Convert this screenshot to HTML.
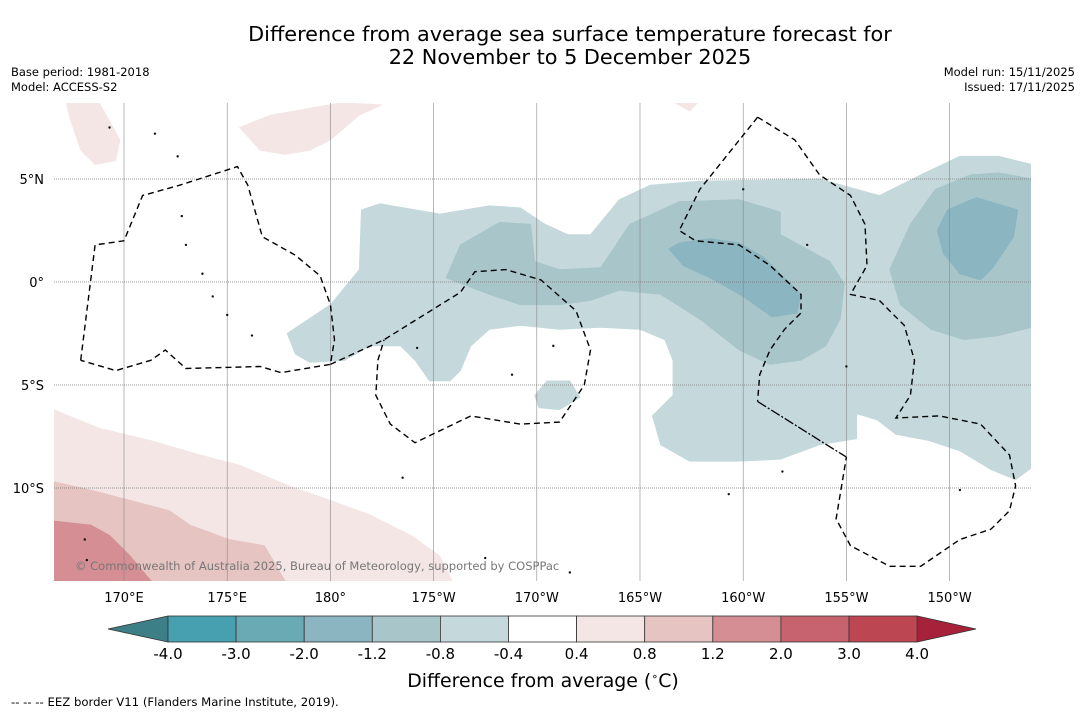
<!DOCTYPE html>
<html><head><meta charset="utf-8">
<style>
body{margin:0;background:#fff;width:1085px;height:713px;overflow:hidden;font-family:"DejaVu Sans","Liberation Sans",sans-serif;}
svg{display:block}
</style></head>
<body>
<svg id="chart" width="1085" height="713" viewBox="0 0 1085 713">
<text x="570" y="41" font-size="20.8" text-anchor="middle" fill="#000">Difference from average sea surface temperature forecast for</text>
<text x="570" y="64" font-size="20.8" text-anchor="middle" fill="#000">22 November to 5 December 2025</text>
<text x="11" y="76" font-size="11.5">Base period: 1981-2018</text>
<text x="11" y="91" font-size="11.5">Model: ACCESS-S2</text>
<text x="1075" y="76" font-size="11.5" text-anchor="end">Model run: 15/11/2025</text>
<text x="1075" y="91" font-size="11.5" text-anchor="end">Issued: 17/11/2025</text>
<g id="map"></g>
<g id="cbar"></g>
<text x="543" y="687" font-size="18.9" text-anchor="middle">Difference from average (<tspan font-size="11" dy="-7">∘</tspan><tspan dy="7">C)</tspan></text>
<text x="11" y="706" font-size="11.7">--  --  -- EEZ border V11 (Flanders Marine Institute, 2019).</text>
</svg>
<script>
const NS="http://www.w3.org/2000/svg";
// axis/tick data
const lonTicks=[170,175,180,185,190,195,200,205,210];
const lonTickLabels=["170°E","175°E","180°","175°W","170°W","165°W","160°W","155°W","150°W"];
const latTicks=[5,0,-5,-10];
const latTickLabels=["5°N","0°","5°S","10°S"];
// colorbar data
const cbLevels=["-4.0","-3.0","-2.0","-1.2","-0.8","-0.4","0.4","0.8","1.2","2.0","3.0","4.0"];
const cbColors=["#47a0b0","#6aaab5","#8ab5c1","#a8c5ca","#c5d9dd","#ffffff","#f3e6e5","#e5c4c1","#d48e94","#c7636e","#bd4653"];
const cbLow="#3d7f86", cbHigh="#a8213b";
// contour polygons [lon, lat] (lon in degrees east)
const negL1=[[177.9,-2.5],[180,-1.1],[181.4,0.6],[181.5,3.5],[182.4,3.8],[185.3,3.3],[187.7,3.7],[189.2,3.6],[190.4,2.8],[191.5,2.3],[192.6,2.3],[194,4],[195.5,4.7],[197.9,4.9],[203.7,5],[206.6,4.2],[208.6,5.2],[210.5,6.1],[212.4,6.1],[214,5.7],[214,-9],[213.2,-9.6],[212,-9.1],[210.5,-8.2],[209,-7.7],[207.4,-7.4],[206.5,-6.7],[205.5,-6.4],[205.5,-7.6],[203.7,-7.9],[201.8,-8.6],[199.8,-8.7],[197.4,-8.7],[196,-7.9],[195.6,-6.5],[196.6,-5.5],[196.6,-3.8],[196.2,-2.8],[195,-2.3],[193.1,-2.2],[191.1,-2.3],[189.2,-2.1],[187.7,-2.3],[186.8,-3.1],[186.3,-4.3],[185.8,-4.8],[184.8,-4.8],[184.1,-3.8],[183.4,-3.1],[181.9,-3.1],[180.7,-3.8],[179,-3.9],[178.3,-3.5]];
const negL1b=[[189.9,-5.5],[190.5,-4.8],[191.6,-4.8],[192.1,-5.6],[191.1,-6.2],[190.1,-6.1]];
const negL2a=[[185.6,0.2],[186.3,1.8],[188.2,2.9],[189.7,2.8],[189.9,1],[191.1,0.6],[193.1,0.7],[194.5,2.8],[196.9,3.9],[199.8,4],[201.8,3.4],[201.8,2.3],[204.2,1],[204.9,-0.1],[204.7,-1.8],[204,-3.1],[202.8,-3.8],[201.3,-4],[199.8,-3.3],[197.9,-1.8],[196,-0.6],[194,-0.4],[192.6,-0.9],[191.1,-1.1],[189.2,-1.1],[187.7,-0.6]];
const negL2b=[[207.1,0.6],[208.1,2.8],[209.3,4.5],[211,5.2],[212.4,5.3],[214,5],[214,-2.2],[212.4,-2.6],[210.7,-2.8],[209.1,-2.3],[207.6,-1.1]];
const negL3a=[[196.4,1.6],[196.9,1.9],[198.4,2.1],[199.8,1.9],[201,1.2],[202.1,0.1],[202.8,-0.6],[202.6,-1.5],[201.4,-1.7],[200,-0.7],[198.4,0.2],[197.1,0.8]];
const negL3b=[[209.4,2.5],[209.9,3.5],[211.3,4.1],[213.3,3.5],[213.1,2.2],[212.1,0.7],[211.5,0.1],[210.5,0.4],[209.7,1.4]];
const posL1a=[[166.6,-6.2],[168.8,-7.1],[171.3,-7.7],[173.7,-8.4],[175.6,-8.9],[178,-9.9],[180,-10.6],[181.9,-11.3],[183.9,-12.3],[185.3,-13.3],[185.9,-14.5],[166.6,-14.5]];
const posL1b=[[167.2,8.7],[168.8,8.7],[169.8,6.9],[169.6,5.9],[168.6,5.7],[167.9,6.4],[167.4,7.9]];
const posL1c=[[175.6,7.5],[177.1,8.1],[180.5,8.7],[182.5,8.6],[181.4,8.1],[180,6.9],[179,6.4],[177.8,6.2],[176.6,6.4]];
const posL1d=[[196.7,8.7],[197.8,8.7],[197.4,8.3]];
const posL2=[[166.6,-9.7],[168.4,-10.1],[170.3,-10.6],[172.2,-11.1],[173.2,-11.8],[175.1,-12.5],[176.8,-12.8],[177.8,-14.5],[166.6,-14.5]];
const posL3=[[166.6,-11.6],[168.4,-11.8],[169.3,-12.3],[170.3,-13.3],[171.3,-14.5],[166.6,-14.5]];
// EEZ borders
const eezA=[[167.9,-3.8],[168.6,1.8],[170,2],[170.9,4.2],[172.7,4.7],[175.5,5.6],[176,4.7],[176.7,2.2],[178.3,1.3],[179.5,0.3],[180,-1.1],[180.2,-2.8],[180,-4],[177.6,-4.4],[176.6,-4.1],[173,-4.2],[172,-3.3],[171.3,-3.8],[169.6,-4.3],[167.9,-3.8]];
const eezB=[[180,-4],[182.6,-2.8],[186.3,-0.5],[187,0.5],[188.5,0.6],[190.2,0.1],[191.9,-1.4],[192.6,-3.3],[192.3,-5],[191.1,-6.8],[189.2,-6.9],[186.8,-6.5],[184.1,-7.8],[182.9,-6.9],[182.2,-5.5],[182.3,-3.8],[182.6,-2.8]];
const eezC=[[200.7,8],[197.9,4.5],[196.9,2.5],[197.7,2],[199.8,1.8],[201.3,0.8],[202.8,-0.6],[202.8,-1.5],[202,-2.3],[201.3,-3.3],[200.8,-4.5],[200.7,-5.8]];
const eezD=[[200.7,-5.8],[205,-8.5]];
const eezE=[[200.7,8],[202.5,6.9],[203.7,5.2],[205.2,4.2],[205.9,2.8],[206,0.8],[205.2,-0.6],[206.6,-0.9],[207.8,-2.1],[208.3,-3.8],[208.1,-5.5],[207.4,-6.6],[209.5,-6.5],[211.5,-6.9],[212.9,-8.4],[213.2,-9.9],[212.9,-11.1],[212,-12],[210.5,-12.5],[208.6,-13.8],[207.1,-13.8],[205.2,-12.8],[204.5,-11.5],[205,-8.5]];
// islands
const islands=[[169.3,7.5],[171.5,7.2],[172.6,6.1],[172.8,3.2],[173,1.8],[173.8,0.4],[174.3,-0.7],[175,-1.6],[176.2,-2.6],[183.5,-9.5],[184.2,-3.2],[190.8,-3.1],[188.8,-4.5],[187.5,-13.4],[191.6,-14.1],[200,4.5],[203.1,1.8],[201.9,-9.2],[199.3,-10.3],[205,-4.1],[214.6,-14.4],[210.5,-10.1],[168.1,-12.5],[168.2,-13.5]];

const X0=54,X1=1031,Y0=103,Y1=581;
const xS=lon=>124+(lon-170)*20.64;
const yS=lat=>282-lat*20.6;
const map=document.getElementById('map');
function mk(tag,attrs,parent){const e=document.createElementNS(NS,tag);for(const k in attrs)e.setAttribute(k,attrs[k]);(parent||map).appendChild(e);return e;}
const defs=mk('defs',{});
const cp=mk('clipPath',{id:'clip'},defs);mk('rect',{x:X0,y:Y0,width:X1-X0,height:Y1-Y0},cp);
const g=mk('g',{'clip-path':'url(#clip)'});
function pts(a){return a.map(p=>xS(p[0]).toFixed(1)+','+yS(p[1]).toFixed(1)).join(' ');}
function poly(a,fill,name){const e=mk('polygon',{points:pts(a),fill:fill,stroke:fill,'stroke-width':0.8},g);

}
poly(negL1,cbColors[4],'contour-neg-0.4');poly(negL1b,cbColors[4],'contour-neg-0.4-small');
poly(negL2a,cbColors[3],'contour-neg-0.8-central');poly(negL2b,cbColors[3],'contour-neg-0.8-east');
poly(negL3a,cbColors[2],'contour-neg-1.2-central');poly(negL3b,cbColors[2],'contour-neg-1.2-east');
poly(posL1a,cbColors[6],'contour-pos-0.4-sw');poly(posL1b,cbColors[6],'contour-pos-0.4-nw');poly(posL1c,cbColors[6],'contour-pos-0.4-north');poly(posL1d,cbColors[6],'contour-pos-0.4-small');
poly(posL2,cbColors[7],'contour-pos-0.8');poly(posL3,cbColors[8],'contour-pos-1.2');
// grid
lonTicks.forEach((lon,i)=>{const x=xS(lon);
const l=mk('line',{x1:x,x2:x,y1:Y0,y2:Y1,stroke:'#888','stroke-width':0.6},g);


const t=mk('text',{x:x,y:602,'font-size':13,'text-anchor':'middle'});t.textContent=lonTickLabels[i];

});
latTicks.forEach((lat,i)=>{const y=yS(lat);
const l=mk('line',{x1:X0,x2:X1,y1:y,y2:y,stroke:'#777','stroke-width':0.7,'stroke-dasharray':'1,1'},g);


const t=mk('text',{x:44,y:y+5,'font-size':13,'text-anchor':'end'});t.textContent=latTickLabels[i];

});
// islands
islands.forEach(p=>{const c=mk('circle',{cx:xS(p[0]),cy:yS(p[1]),r:1.2,fill:'#111'},g);

});
// EEZ
[eezA,eezB,eezC,eezE].forEach(a=>{const e=mk('polyline',{points:pts(a),fill:'none',stroke:'#000','stroke-width':1.4,'stroke-dasharray':'6,4'},g);

});
const ed=mk('polyline',{points:pts(eezD),fill:'none',stroke:'#000','stroke-width':1.3,'stroke-dasharray':'10,2,2,2'},g);


const cr=mk('text',{x:75,y:570,'font-size':11.5,fill:'#777'},g);cr.textContent='© Commonwealth of Australia 2025, Bureau of Meteorology, supported by COSPPac';


// colorbar
const cb=document.getElementById('cbar');
const cbX0=168,cbW=68.1,cbY=616,cbH=26;
const n=cbColors.length;
const lt=mk('polygon',{points:`108,${cbY+cbH/2} ${cbX0},${cbY} ${cbX0},${cbY+cbH}`,fill:cbLow,stroke:'#333','stroke-width':0.8},cb);


const xe=cbX0+n*cbW;
const ht=mk('polygon',{points:`${xe},${cbY} ${976},${cbY+cbH/2} ${xe},${cbY+cbH}`,fill:cbHigh,stroke:'#333','stroke-width':0.8},cb);


cbColors.forEach((c,i)=>{const r=mk('rect',{x:cbX0+i*cbW,y:cbY,width:cbW,height:cbH,fill:c,stroke:'#333','stroke-width':0.8},cb);

});
cbLevels.forEach((lv,i)=>{const t=mk('text',{x:cbX0+i*cbW,y:659,'font-size':15,'text-anchor':'middle'},cb);t.textContent=lv;

});
</script>
</body></html>
